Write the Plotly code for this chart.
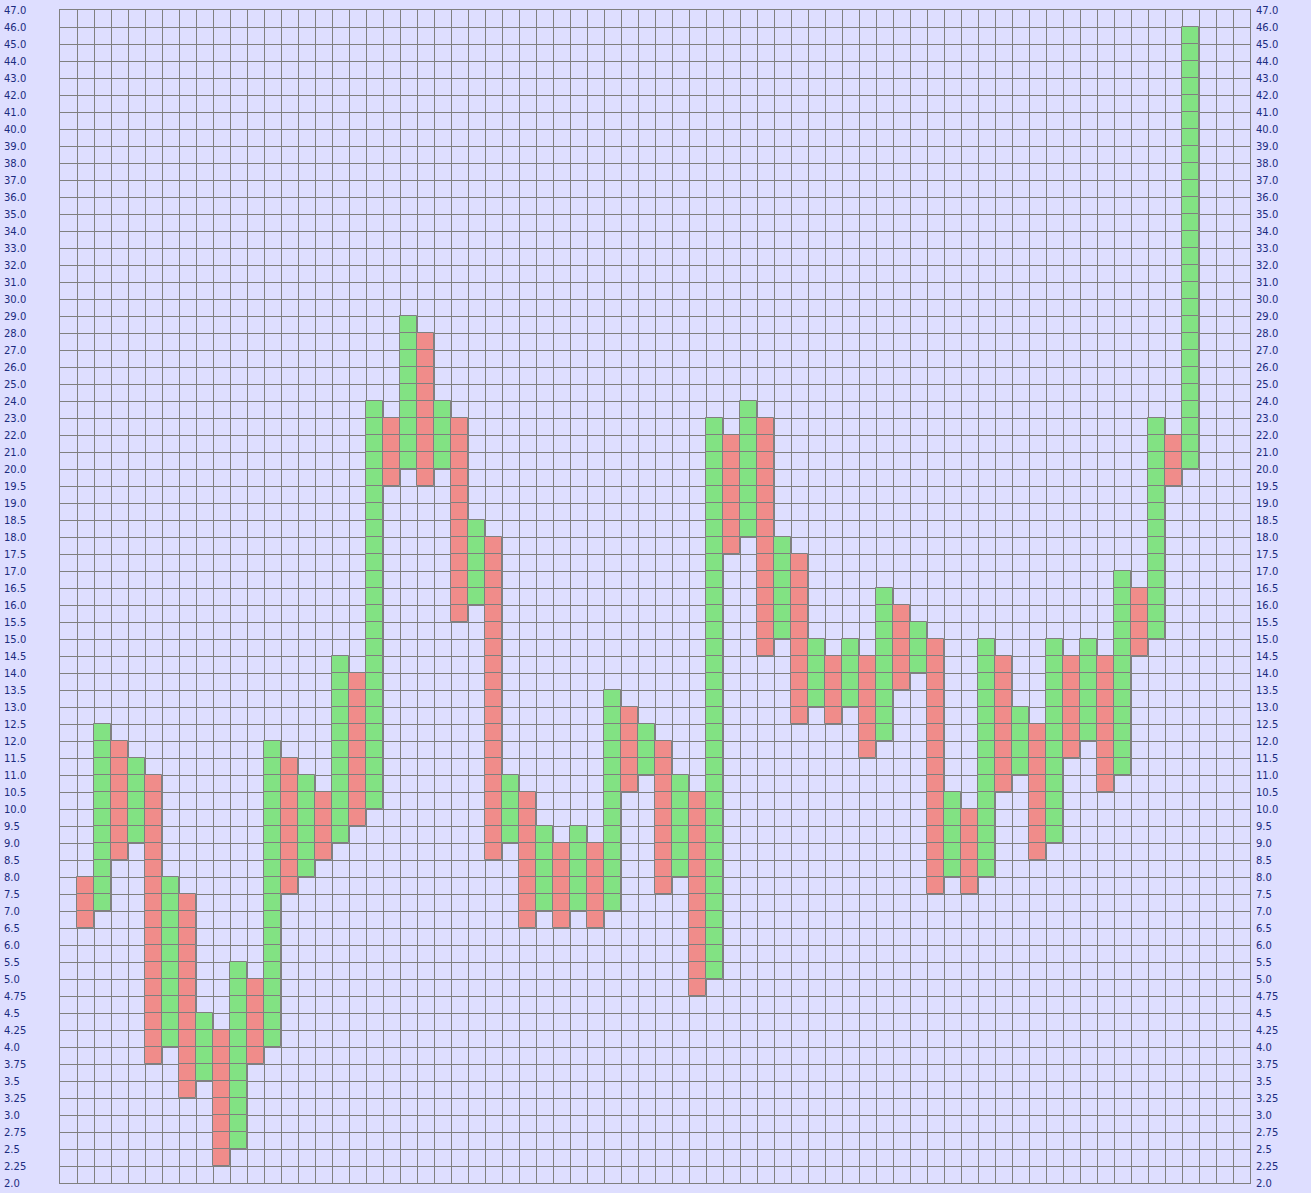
import plotly.graph_objs as go

# price levels (box boundaries), bottom to top
levels = ["2.0", "2.25", "2.5", "2.75", "3.0", "3.25", "3.5", "3.75", "4.0", "4.25",
          "4.5", "4.75", "5.0", "5.5", "6.0", "6.5", "7.0", "7.5", "8.0", "8.5",
          "9.0", "9.5", "10.0", "10.5", "11.0", "11.5", "12.0", "12.5", "13.0", "13.5",
          "14.0", "14.5", "15.0", "15.5", "16.0", "16.5", "17.0", "17.5", "18.0", "18.5",
          "19.0", "19.5", "20.0", "21.0", "22.0", "23.0", "24.0", "25.0", "26.0", "27.0",
          "28.0", "29.0", "30.0", "31.0", "32.0", "33.0", "34.0", "35.0", "36.0", "37.0",
          "38.0", "39.0", "40.0", "41.0", "42.0", "43.0", "44.0", "45.0", "46.0", "47.0"]

# point & figure columns: X = rising (green), O = falling (red)
col_type = ["O", "X", "O", "X", "O", "X", "O", "X", "O", "X",
            "O", "X", "O", "X", "O", "X", "O", "X", "O", "X",
            "O", "X", "O", "X", "O", "X", "O", "X", "O", "X",
            "O", "X", "O", "X", "O", "X", "O", "X", "O", "X",
            "O", "X", "O", "X", "O", "X", "O", "X", "O", "X",
            "O", "X", "O", "X", "O", "X", "O", "X", "O", "X",
            "O", "X", "O", "X", "O", "X"]
col_low = ["6.5", "7.0", "8.5", "9.0", "3.75", "4.0", "3.25", "3.5", "2.25", "2.5",
           "3.75", "4.0", "7.5", "8.0", "8.5", "9.0", "9.5", "10.0", "19.5", "20.0",
           "19.5", "20.0", "15.5", "16.0", "8.5", "9.0", "6.5", "7.0", "6.5", "7.0",
           "6.5", "7.0", "10.5", "11.0", "7.5", "8.0", "4.75", "5.0", "17.5", "18.0",
           "14.5", "15.0", "12.5", "13.0", "12.5", "13.0", "11.5", "12.0", "13.5", "14.0",
           "7.5", "8.0", "7.5", "8.0", "10.5", "11.0", "8.5", "9.0", "11.5", "12.0",
           "10.5", "11.0", "14.5", "15.0", "19.5", "20.0"]
col_high = ["8.0", "12.5", "12.0", "11.5", "11.0", "8.0", "7.5", "4.5", "4.25", "5.5",
            "5.0", "12.0", "11.5", "11.0", "10.5", "14.5", "14.0", "24.0", "23.0", "29.0",
            "28.0", "24.0", "23.0", "18.5", "18.0", "11.0", "10.5", "9.5", "9.0", "9.5",
            "9.0", "13.5", "13.0", "12.5", "12.0", "11.0", "10.5", "23.0", "22.0", "24.0",
            "23.0", "18.0", "17.5", "15.0", "14.5", "15.0", "14.5", "16.5", "16.0", "15.5",
            "15.0", "10.5", "10.0", "15.0", "14.5", "13.0", "12.5", "15.0", "14.5", "15.0",
            "14.5", "17.0", "16.5", "23.0", "22.0", "46.0"]

n_cols = 70
first_col = 1
grid = "#808080"
bg = "#dedeff"
txt = "#1c2c80"

boxes = {"X": ([], []), "O": ([], [])}
for i, t in enumerate(col_type):
    lo = levels.index(col_low[i])
    hi = levels.index(col_high[i])
    for k in range(lo, hi):
        boxes[t][0].append(first_col + i + 0.5)
        boxes[t][1].append(k)

fig = go.Figure()
for t, color in [("X", "#82e283"), ("O", "#f08c8a")]:
    xs, bases = boxes[t]
    fig.add_trace(go.Bar(x=xs, y=[1] * len(xs), base=bases, width=1,
                         marker=dict(color=color, line=dict(color=grid, width=1)),
                         hoverinfo="skip", showlegend=False))

annotations = []
for i, lab in enumerate(levels):
    annotations.append(dict(text=lab, x=0, xref="paper", xanchor="left", xshift=-58,
                            y=i, yref="y", yanchor="middle", showarrow=False,
                            font=dict(family="DejaVu Sans", size=10, color=txt)))

fig.update_layout(
    width=1311, height=1193,
    margin=dict(l=60, r=61, t=10, b=10),
    paper_bgcolor=bg, plot_bgcolor=bg,
    barmode="overlay", bargap=0,
    annotations=annotations,
    xaxis=dict(range=[0, n_cols], dtick=1, tick0=0, showticklabels=False, automargin=False,
               showgrid=True, gridcolor=grid, gridwidth=1, zeroline=False,
               showline=True, linecolor=grid, linewidth=1, mirror=True, fixedrange=True),
    yaxis=dict(range=[0, len(levels) - 1], side="right", automargin=False,
               tickmode="array", tickvals=list(range(len(levels))), ticktext=levels,
               ticklabelstandoff=3,
               tickfont=dict(family="DejaVu Sans", size=10, color=txt),
               showgrid=True, gridcolor=grid, gridwidth=1, zeroline=False,
               showline=True, linecolor=grid, linewidth=1, mirror=True, fixedrange=True),
)

fig.write_html("out.html", config={"displayModeBar": False},
               post_script="document.body.style.margin='0px';")
